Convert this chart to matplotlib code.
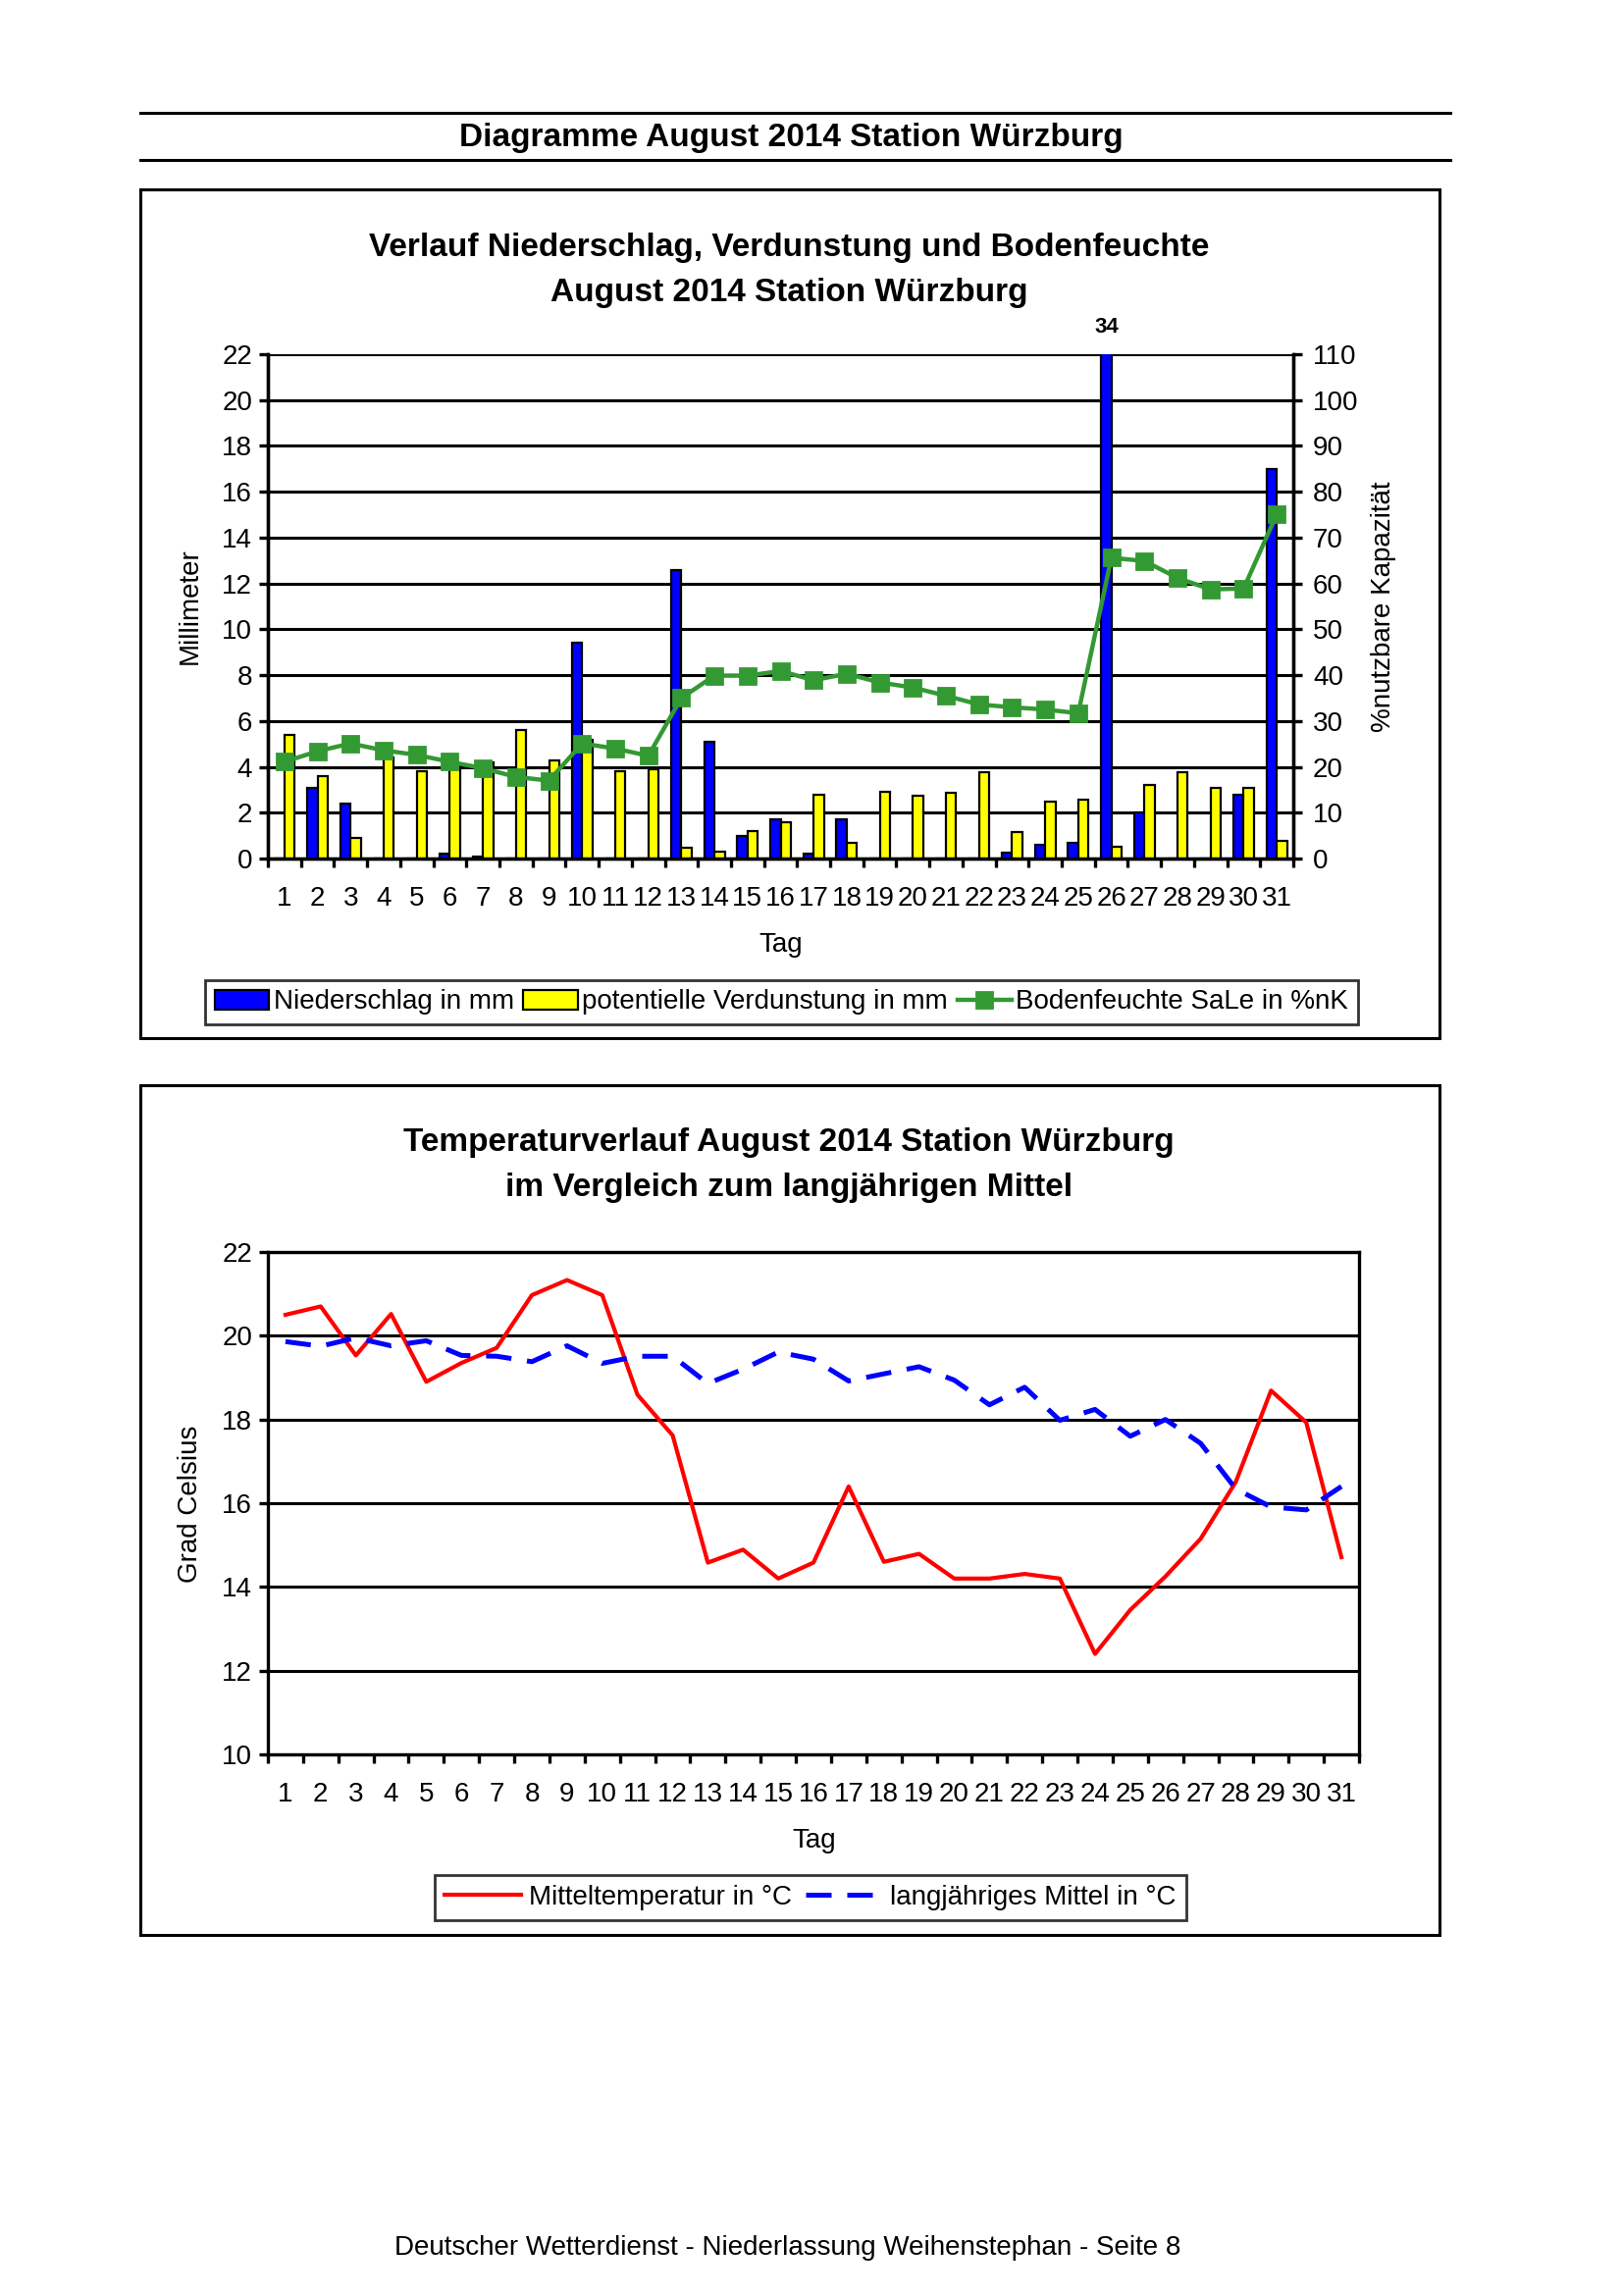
import matplotlib
matplotlib.use("Agg")
import matplotlib.pyplot as plt
from matplotlib.patches import Rectangle, Patch
from matplotlib.lines import Line2D
import numpy as np

plt.rcParams['font.family'] = ['Liberation Sans', 'DejaVu Sans']

days = list(range(1, 32))
day_labels = [str(d) for d in days]

niederschlag = [0.0, 3.1, 2.4, 0.0, 0.0, 0.2, 0.1, 0.0, 0.0, 9.4,
                0.0, 0.0, 12.6, 5.1, 1.0, 1.7, 0.2, 1.7, 0.0, 0.0,
                0.0, 0.0, 0.25, 0.6, 0.7, 34.0, 2.0, 0.0, 0.0, 2.8, 17.0]
verdunstung = [5.4, 3.6, 0.9, 4.4, 3.8, 4.1, 4.2, 5.6, 4.3, 5.2,
               3.8, 3.9, 0.45, 0.3, 1.2, 1.6, 2.8, 0.7, 2.9, 2.75,
               2.85, 3.75, 1.15, 2.5, 2.55, 0.5, 3.2, 3.75, 3.1, 3.1, 0.75]
bodenfeuchte = [21.1, 23.4, 25.1, 23.6, 22.6, 21.1, 19.7, 17.8, 17.0, 25.1,
                24.0, 22.4, 35.0, 39.9, 39.9, 40.9, 38.9, 40.3, 38.4, 37.3,
                35.5, 33.6, 33.0, 32.5, 31.7, 65.6, 64.9, 61.2, 58.7, 58.9, 75.1]

mitteltemp = [20.5, 20.7, 19.53, 20.52, 18.9, 19.35, 19.71, 20.97, 21.33, 20.97,
              18.59, 17.62, 14.58, 14.89, 14.2, 14.58, 16.4, 14.6, 14.79, 14.2,
              14.2, 14.31, 14.2, 12.4, 13.45, 14.25, 15.15, 16.51, 18.69, 17.93, 14.71]
langmittel = [19.86, 19.75, 19.95, 19.76, 19.88, 19.53, 19.51, 19.38, 19.76, 19.34,
              19.51, 19.51, 18.86, 19.2, 19.61, 19.44, 18.92, 19.09, 19.26, 18.94,
              18.35, 18.77, 17.98, 18.24, 17.6, 18.0, 17.43, 16.34, 15.91, 15.84, 16.4]

W, H = 1653, 2340
fig = plt.figure(figsize=(W / 200, H / 200), dpi=200)

def fx(x):
    return x / W

def fy(y):
    return 1 - y / H

def axrect(x0, y0, x1, y1):
    return [fx(x0), fy(y1), fx(x1) - fx(x0), fy(y0) - fy(y1)]

# Header
for yy in (115, 163):
    fig.add_artist(Line2D([fx(143), fx(1478)], [fy(yy), fy(yy)], color='black', lw=1.1))
fig.text(fx(806), fy(141), 'Diagramme August 2014 Station Würzburg', ha='center', va='center',
         fontsize=12, fontweight='bold')

# Frames
for (x0, y0, x1, y1) in [(143, 193, 1467, 1058), (143, 1106, 1467, 1972)]:
    fig.add_artist(Rectangle((fx(x0), fy(y1)), fx(x1) - fx(x0), fy(y0) - fy(y1),
                             fill=False, edgecolor='black', lw=1.1, transform=fig.transFigure))

grid_lw = 1.1
spine_lw = 1.2

def style_xaxis(ax):
    ax.set_xlim(0.5, 31.5)
    ax.set_xticks(np.arange(0.5, 32, 1))
    ax.set_xticklabels([])
    ax.set_xticks(days, minor=True)
    ax.set_xticklabels(day_labels, minor=True)
    ax.tick_params(axis='x', which='major', direction='out', length=3.2, width=spine_lw)
    ax.tick_params(axis='x', which='minor', length=0, pad=10, labelsize=10)

# ---------- Chart 1 ----------
ax1 = fig.add_axes(axrect(273, 361, 1318, 875))
x = np.array(days)
bw = 0.31
ax1.bar(x - bw / 2, niederschlag, width=bw, color='#0000ff', edgecolor='black', lw=0.8, zorder=3,
        label='Niederschlag in mm')
ax1.bar(x + bw / 2, verdunstung, width=bw, color='#ffff00', edgecolor='black', lw=0.8, zorder=3,
        label='potentielle Verdunstung in mm')
ax1.set_ylim(0, 22)
ax1.set_yticks(np.arange(0, 23, 2))
ax1.yaxis.grid(True, color='black', lw=grid_lw, zorder=0)
ax1.set_axisbelow(True)
ax1.tick_params(axis='y', direction='out', length=3.2, width=spine_lw, labelsize=10, pad=2.5)
style_xaxis(ax1)
for s in ax1.spines.values():
    s.set_linewidth(spine_lw)
ax1.spines['top'].set_visible(False)

ax2 = ax1.twinx()
ax2.plot(x, bodenfeuchte, color='#339933', lw=1.6, marker='s', markersize=5.8,
         label='Bodenfeuchte SaLe in %nK', zorder=4)
ax2.set_ylim(0, 110)
ax2.set_yticks(np.arange(0, 111, 10))
ax2.tick_params(axis='y', direction='out', length=3.2, width=spine_lw, labelsize=10, pad=4)
for s in ax2.spines.values():
    s.set_linewidth(spine_lw)
ax2.spines['top'].set_visible(False)
ax2.set_xlim(0.5, 31.5)

ax1.annotate('34', xy=(26 - bw / 2, 22), xytext=(0, 6), textcoords='offset points',
             ha='center', va='bottom', fontsize=8, fontweight='bold', annotation_clip=False)

fig.text(fx(804), fy(253), 'Verlauf Niederschlag, Verdunstung und Bodenfeuchte', ha='center',
         va='center', fontsize=12, fontweight='bold')
fig.text(fx(804), fy(298), 'August 2014 Station Würzburg', ha='center', va='center',
         fontsize=12, fontweight='bold')
fig.text(fx(194), fy(618), 'Millimeter', rotation=90, ha='center', va='center', fontsize=10)
fig.text(fx(1410), fy(618), '%nutzbare Kapazität', rotation=90, ha='center', va='center', fontsize=10)
fig.text(fx(796), fy(963), 'Tag', ha='center', va='center', fontsize=10)

h1 = [Patch(facecolor='#0000ff', edgecolor='black', lw=0.8),
      Patch(facecolor='#ffff00', edgecolor='black', lw=0.8),
      Line2D([], [], color='#339933', lw=1.6, marker='s', markersize=5.8)]
l1 = ['Niederschlag in mm', 'potentielle Verdunstung in mm', 'Bodenfeuchte SaLe in %nK']
leg1 = fig.legend(h1, l1, loc='center', bbox_to_anchor=(fx(796.5), fy(1021.5)), ncol=3,
                  frameon=True, fancybox=False, edgecolor='black', fontsize=10,
                  handlelength=2.0, handletextpad=0.15, columnspacing=0.35, borderpad=0.35,
                  borderaxespad=0)
leg1.get_frame().set_linewidth(1.0)

# ---------- Chart 2 ----------
ax3 = fig.add_axes(axrect(273, 1276, 1385, 1788))
ax3.plot(x, mitteltemp, color='#ff0000', lw=1.5, label='Mitteltemperatur in °C', zorder=3)
ax3.plot(x, langmittel, color='#0000ff', lw=1.8, dashes=(5.2, 3.2),
         label='langjähriges Mittel in °C', zorder=3)
ax3.set_ylim(10, 22)
ax3.set_yticks(np.arange(10, 23, 2))
ax3.yaxis.grid(True, color='black', lw=grid_lw, zorder=0)
ax3.set_axisbelow(True)
ax3.tick_params(axis='y', direction='out', length=3.2, width=spine_lw, labelsize=10, pad=2.5)
style_xaxis(ax3)
for s in ax3.spines.values():
    s.set_linewidth(spine_lw)

fig.text(fx(804), fy(1165), 'Temperaturverlauf August 2014 Station Würzburg', ha='center',
         va='center', fontsize=12, fontweight='bold')
fig.text(fx(804), fy(1210), 'im Vergleich zum langjährigen Mittel', ha='center', va='center',
         fontsize=12, fontweight='bold')
fig.text(fx(194), fy(1533), 'Grad Celsius', rotation=90, ha='center', va='center', fontsize=10)
fig.text(fx(830), fy(1876), 'Tag', ha='center', va='center', fontsize=10)

h2 = [Line2D([], [], color='#ff0000', lw=1.5),
      Line2D([], [], color='#0000ff', lw=1.8, dashes=(5.2, 3.2))]
l2 = ['Mitteltemperatur in °C', 'langjähriges Mittel in °C']
leg2 = fig.legend(h2, l2, loc='center', bbox_to_anchor=(fx(826), fy(1934)), ncol=2,
                  frameon=True, fancybox=False, edgecolor='black', fontsize=10,
                  handlelength=2.8, handletextpad=0.3, columnspacing=0.5, borderpad=0.35,
                  borderaxespad=0)
leg2.get_frame().set_linewidth(1.0)

fig.text(fx(803), fy(2291), 'Deutscher Wetterdienst - Niederlassung Weihenstephan - Seite 8',
         ha='center', va='center', fontsize=10)

fig.savefig('out.png', dpi=200)
